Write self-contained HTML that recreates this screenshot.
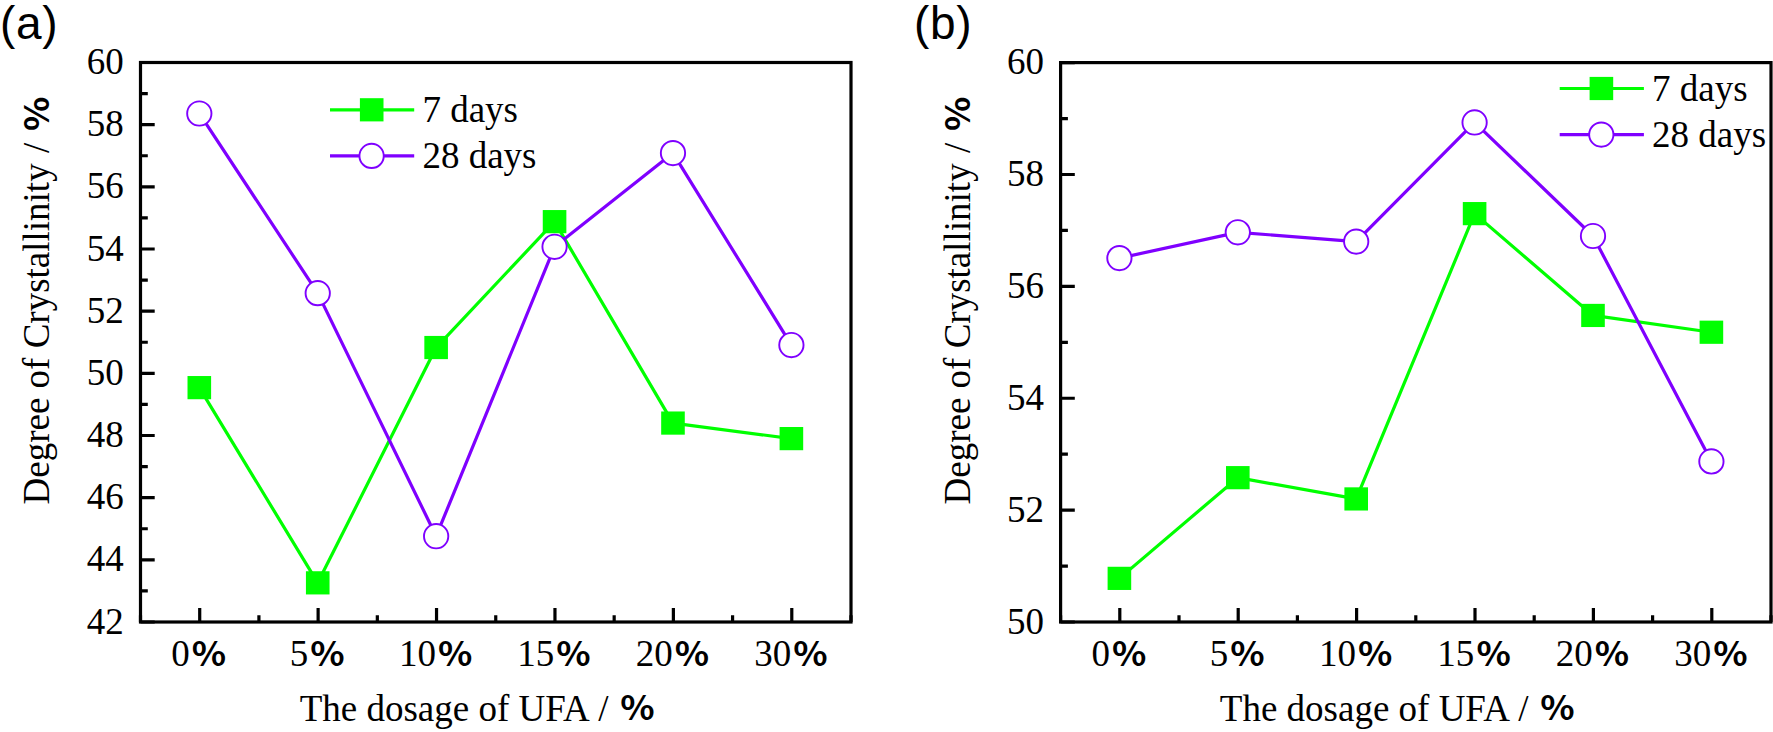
<!DOCTYPE html>
<html lang="en"><head><meta charset="utf-8"><title>Degree of Crystallinity vs dosage of UFA</title>
<style>
html,body{margin:0;padding:0;background:#fff;}
body{width:1773px;height:732px;overflow:hidden;}
svg{display:block;}
svg text{font-family:'Liberation Serif',serif;font-size:37px;fill:#000;}
svg text.lab{font-family:'Liberation Sans',sans-serif;font-size:46px;letter-spacing:0.7px;}
svg text.p{font-family:'Noto Sans CJK SC','Liberation Sans',sans-serif;font-weight:bold;font-size:33.7px;}
</style></head>
<body>
<svg width="1773" height="732" viewBox="0 0 1773 732">
<rect width="1773" height="732" fill="#fff"/>
<g>
<text x="123.80" y="74.00" text-anchor="end">60</text>
<text x="123.80" y="136.17" text-anchor="end">58</text>
<text x="123.80" y="198.33" text-anchor="end">56</text>
<text x="123.80" y="260.50" text-anchor="end">54</text>
<text x="123.80" y="322.67" text-anchor="end">52</text>
<text x="123.80" y="384.83" text-anchor="end">50</text>
<text x="123.80" y="447.00" text-anchor="end">48</text>
<text x="123.80" y="509.17" text-anchor="end">46</text>
<text x="123.80" y="571.33" text-anchor="end">44</text>
<text x="123.80" y="633.50" text-anchor="end">42</text>
<path d="M140.50 62.50h14.2 M140.50 93.58h7.3 M140.50 124.67h14.2 M140.50 155.75h7.3 M140.50 186.83h14.2 M140.50 217.92h7.3 M140.50 249.00h14.2 M140.50 280.08h7.3 M140.50 311.17h14.2 M140.50 342.25h7.3 M140.50 373.33h14.2 M140.50 404.42h7.3 M140.50 435.50h14.2 M140.50 466.58h7.3 M140.50 497.67h14.2 M140.50 528.75h7.3 M140.50 559.83h14.2 M140.50 590.92h7.3 M140.50 622.00h14.2 M199.71 622.00v-14.1 M318.12 622.00v-14.1 M436.54 622.00v-14.1 M554.96 622.00v-14.1 M673.38 622.00v-14.1 M791.79 622.00v-14.1 M140.50 622.00v-6.8 M258.92 622.00v-6.8 M377.33 622.00v-6.8 M495.75 622.00v-6.8 M614.17 622.00v-6.8 M732.58 622.00v-6.8 M851.00 622.00v-6.8" stroke="#000" stroke-width="3.2" fill="none"/>
<rect x="140.50" y="62.50" width="710.50" height="559.50" fill="none" stroke="#000" stroke-width="3.2"/>
<text x="189.81" y="666.3" text-anchor="end">0</text>
<text class="p" transform="translate(191.86 666.00) scale(1.06 1)">%</text>
<text x="308.23" y="666.3" text-anchor="end">5</text>
<text class="p" transform="translate(310.28 666.00) scale(1.06 1)">%</text>
<text x="435.89" y="666.3" text-anchor="end">10</text>
<text class="p" transform="translate(437.94 666.00) scale(1.06 1)">%</text>
<text x="554.31" y="666.3" text-anchor="end">15</text>
<text class="p" transform="translate(556.36 666.00) scale(1.06 1)">%</text>
<text x="672.73" y="666.3" text-anchor="end">20</text>
<text class="p" transform="translate(674.78 666.00) scale(1.06 1)">%</text>
<text x="791.14" y="666.3" text-anchor="end">30</text>
<text class="p" transform="translate(793.19 666.00) scale(1.06 1)">%</text>
<polyline points="199.31,387.63 317.73,582.84 436.14,347.53 554.56,221.65 672.98,423.07 791.39,438.61" fill="none" stroke="#00ff00" stroke-width="3.2" stroke-linejoin="round"/>
<rect x="187.51" y="376.03" width="23.6" height="23.2" fill="#00ff00"/>
<rect x="305.93" y="571.24" width="23.6" height="23.2" fill="#00ff00"/>
<rect x="424.34" y="335.93" width="23.6" height="23.2" fill="#00ff00"/>
<rect x="542.76" y="210.05" width="23.6" height="23.2" fill="#00ff00"/>
<rect x="661.18" y="411.47" width="23.6" height="23.2" fill="#00ff00"/>
<rect x="779.59" y="427.01" width="23.6" height="23.2" fill="#00ff00"/>
<polyline points="199.31,113.48 317.73,293.14 436.14,536.21 554.56,246.82 672.98,153.08 791.39,345.05" fill="none" stroke="#7f00ff" stroke-width="3.2" stroke-linejoin="round"/>
<circle cx="199.31" cy="113.48" r="12.15" fill="#fff" stroke="#7f00ff" stroke-width="1.9"/>
<circle cx="317.73" cy="293.14" r="12.15" fill="#fff" stroke="#7f00ff" stroke-width="1.9"/>
<circle cx="436.14" cy="536.21" r="12.15" fill="#fff" stroke="#7f00ff" stroke-width="1.9"/>
<circle cx="554.56" cy="246.82" r="12.15" fill="#fff" stroke="#7f00ff" stroke-width="1.9"/>
<circle cx="672.98" cy="153.08" r="12.15" fill="#fff" stroke="#7f00ff" stroke-width="1.9"/>
<circle cx="791.39" cy="345.05" r="12.15" fill="#fff" stroke="#7f00ff" stroke-width="1.9"/>
<path d="M330.00 109.80h84.2" stroke="#00ff00" stroke-width="3.2"/>
<rect x="359.90" y="98.20" width="23.6" height="23.2" fill="#00ff00"/>
<text x="422.40" y="122.10">7 days</text>
<path d="M330.00 155.90h84.2" stroke="#7f00ff" stroke-width="3.2"/>
<circle cx="371.60" cy="155.90" r="12.15" fill="#fff" stroke="#7f00ff" stroke-width="1.9"/>
<text x="422.40" y="167.90">28 days</text>
<text x="299.70" y="720.6">The dosage of UFA <tspan dx="1.2">/</tspan></text>
<text class="p" transform="translate(620.25 720.40) scale(1.06 1)">%</text>
<text transform="translate(49.40 504.5) rotate(-90)">Degree of Crystallinity <tspan dx="1.2">/</tspan></text>
<text class="p" transform="translate(49.40 131.05) rotate(-90) scale(1.06 1)">%</text>
<text x="0.00" y="38.6" class="lab">(a)</text>
</g>
<g>
<text x="1043.90" y="74.10" text-anchor="end">60</text>
<text x="1043.90" y="185.98" text-anchor="end">58</text>
<text x="1043.90" y="297.86" text-anchor="end">56</text>
<text x="1043.90" y="409.74" text-anchor="end">54</text>
<text x="1043.90" y="521.62" text-anchor="end">52</text>
<text x="1043.90" y="633.50" text-anchor="end">50</text>
<path d="M1060.60 62.60h14.2 M1060.60 118.54h7.3 M1060.60 174.48h14.2 M1060.60 230.42h7.3 M1060.60 286.36h14.2 M1060.60 342.30h7.3 M1060.60 398.24h14.2 M1060.60 454.18h7.3 M1060.60 510.12h14.2 M1060.60 566.06h7.3 M1060.60 622.00h14.2 M1119.80 622.00v-14.1 M1238.20 622.00v-14.1 M1356.60 622.00v-14.1 M1475.00 622.00v-14.1 M1593.40 622.00v-14.1 M1711.80 622.00v-14.1 M1060.60 622.00v-6.8 M1179.00 622.00v-6.8 M1297.40 622.00v-6.8 M1415.80 622.00v-6.8 M1534.20 622.00v-6.8 M1652.60 622.00v-6.8 M1771.00 622.00v-6.8" stroke="#000" stroke-width="3.2" fill="none"/>
<rect x="1060.60" y="62.60" width="710.40" height="559.40" fill="none" stroke="#000" stroke-width="3.2"/>
<text x="1109.90" y="666.3" text-anchor="end">0</text>
<text class="p" transform="translate(1111.95 666.00) scale(1.06 1)">%</text>
<text x="1228.30" y="666.3" text-anchor="end">5</text>
<text class="p" transform="translate(1230.35 666.00) scale(1.06 1)">%</text>
<text x="1355.95" y="666.3" text-anchor="end">10</text>
<text class="p" transform="translate(1358.00 666.00) scale(1.06 1)">%</text>
<text x="1474.35" y="666.3" text-anchor="end">15</text>
<text class="p" transform="translate(1476.40 666.00) scale(1.06 1)">%</text>
<text x="1592.75" y="666.3" text-anchor="end">20</text>
<text class="p" transform="translate(1594.80 666.00) scale(1.06 1)">%</text>
<text x="1711.15" y="666.3" text-anchor="end">30</text>
<text class="p" transform="translate(1713.20 666.00) scale(1.06 1)">%</text>
<polyline points="1119.40,578.37 1237.80,477.67 1356.20,498.93 1474.60,213.64 1593.00,315.45 1711.40,332.23" fill="none" stroke="#00ff00" stroke-width="3.2" stroke-linejoin="round"/>
<rect x="1107.60" y="566.77" width="23.6" height="23.2" fill="#00ff00"/>
<rect x="1226.00" y="466.07" width="23.6" height="23.2" fill="#00ff00"/>
<rect x="1344.40" y="487.33" width="23.6" height="23.2" fill="#00ff00"/>
<rect x="1462.80" y="202.04" width="23.6" height="23.2" fill="#00ff00"/>
<rect x="1581.20" y="303.85" width="23.6" height="23.2" fill="#00ff00"/>
<rect x="1699.60" y="320.63" width="23.6" height="23.2" fill="#00ff00"/>
<polyline points="1119.40,258.11 1237.80,232.32 1356.20,241.61 1474.60,122.46 1593.00,236.01 1711.40,461.45" fill="none" stroke="#7f00ff" stroke-width="3.2" stroke-linejoin="round"/>
<circle cx="1119.40" cy="258.11" r="12.15" fill="#fff" stroke="#7f00ff" stroke-width="1.9"/>
<circle cx="1237.80" cy="232.32" r="12.15" fill="#fff" stroke="#7f00ff" stroke-width="1.9"/>
<circle cx="1356.20" cy="241.61" r="12.15" fill="#fff" stroke="#7f00ff" stroke-width="1.9"/>
<circle cx="1474.60" cy="122.46" r="12.15" fill="#fff" stroke="#7f00ff" stroke-width="1.9"/>
<circle cx="1593.00" cy="236.01" r="12.15" fill="#fff" stroke="#7f00ff" stroke-width="1.9"/>
<circle cx="1711.40" cy="461.45" r="12.15" fill="#fff" stroke="#7f00ff" stroke-width="1.9"/>
<path d="M1559.70 88.50h84.2" stroke="#00ff00" stroke-width="3.2"/>
<rect x="1589.60" y="76.90" width="23.6" height="23.2" fill="#00ff00"/>
<text x="1652.10" y="100.80">7 days</text>
<path d="M1559.70 134.60h84.2" stroke="#7f00ff" stroke-width="3.2"/>
<circle cx="1601.30" cy="134.60" r="12.15" fill="#fff" stroke="#7f00ff" stroke-width="1.9"/>
<text x="1652.10" y="146.60">28 days</text>
<text x="1219.80" y="720.6">The dosage of UFA <tspan dx="1.2">/</tspan></text>
<text class="p" transform="translate(1540.35 720.40) scale(1.06 1)">%</text>
<text transform="translate(969.50 504.5) rotate(-90)">Degree of Crystallinity <tspan dx="1.2">/</tspan></text>
<text class="p" transform="translate(969.50 131.05) rotate(-90) scale(1.06 1)">%</text>
<text x="914.00" y="38.6" class="lab">(b)</text>
</g>
</svg>
</body></html>
